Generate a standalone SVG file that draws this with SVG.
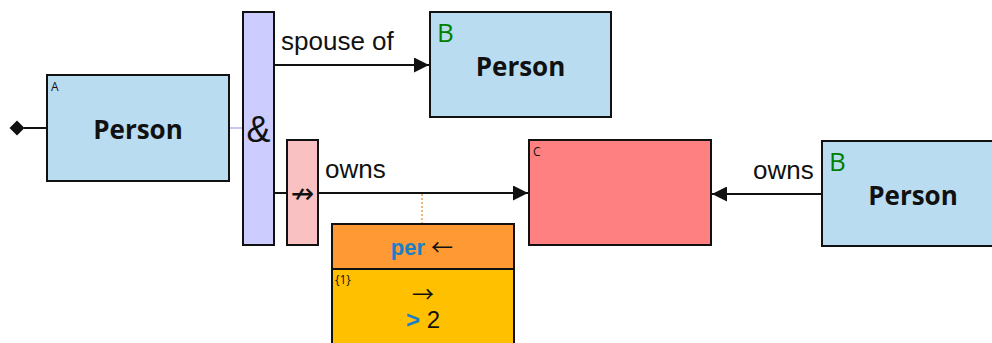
<svg xmlns="http://www.w3.org/2000/svg" width="992" height="343" viewBox="0 0 992 343">
<style>
.box{stroke:#111;stroke-width:2}
.person{fill:#b9dcf0}
.pt{font-family:"Open Sans","Noto Sans",sans-serif;font-weight:bold;font-size:26px;fill:#111;text-anchor:middle}
.var{font-family:"Open Sans","Noto Sans",sans-serif;font-size:26px;fill:#008000}
.small{font-family:"Open Sans","Noto Sans",sans-serif;font-size:12px;fill:#111}
.lbl{font-family:"Liberation Sans",Arial,sans-serif;font-size:26px;fill:#111}
.edge{stroke:#111;stroke-width:2;fill:none}
.arr{font-family:"Noto Sans CJK JP","DejaVu Sans",sans-serif;fill:#111;text-anchor:middle}
</style>
<defs>
<marker id="ah" viewBox="0 0 10 10" refX="10" refY="5" markerWidth="15" markerHeight="15" markerUnits="userSpaceOnUse" orient="auto">
<path d="M0,0 L10,5 L0,10 Z" fill="#111"/>
</marker>
</defs>
<g id="connectors">
<path d="M9.5,128 L17,120.5 L24.5,128 L17,135.5 Z" fill="#111"/>
<line class="edge" x1="24" y1="128" x2="47" y2="128"/>
<line x1="229" y1="128" x2="243" y2="128" stroke="#c8c8f0" stroke-width="2"/>
<line class="edge" x1="274" y1="65" x2="429" y2="65" marker-end="url(#ah)"/>
<text class="lbl" x="281" y="50">spouse of</text>
<line class="edge" x1="274" y1="193" x2="287" y2="193"/>
<line class="edge" x1="318" y1="193" x2="528" y2="193" marker-end="url(#ah)"/>
<text class="lbl" x="325" y="178">owns</text>
<line class="edge" x1="822" y1="194" x2="712" y2="194" marker-end="url(#ah)"/>
<text class="lbl" x="753" y="179">owns</text>
<line x1="422" y1="194" x2="422" y2="223" stroke="#f0a050" stroke-width="1.5" stroke-dasharray="2,2"/>
</g>
<g id="nodeA">
<rect class="box person" x="47" y="75" width="182" height="106"/>
<text class="small" x="51" y="91">A</text>
<text class="pt" x="138" y="139">Person</text>
</g>
<g id="and">
<rect class="box" x="243" y="12" width="31" height="233" fill="#ccccff"/>
<text x="258.5" y="142" font-family="Liberation Sans,Arial,sans-serif" font-size="36" fill="#111" text-anchor="middle">&amp;</text>
</g>
<g id="not">
<rect class="box" x="287" y="140" width="31" height="105" fill="#f9c1c1"/>
<text x="302.5" y="203" font-family="DejaVu Sans,sans-serif" font-size="28" fill="#111" text-anchor="middle">↛</text>
</g>
<g id="nodeB1">
<rect class="box person" x="430" y="12" width="181" height="105"/>
<text class="var" x="437" y="42">B</text>
<text class="pt" x="520.5" y="76">Person</text>
</g>
<g id="nodeC">
<rect class="box" x="529" y="140" width="182" height="105" fill="#ff8080"/>
<text class="small" x="533" y="156">C</text>
</g>
<g id="nodeB2">
<rect class="box person" x="822" y="141" width="182" height="105"/>
<text class="var" x="829" y="171">B</text>
<text class="pt" x="913" y="205">Person</text>
</g>
<g id="per">
<rect class="box" x="332" y="224" width="182" height="130" fill="#ffc000"/>
<rect class="box" x="332" y="224" width="182" height="45" fill="#ff9933"/>
<text x="425" y="255" font-family="Liberation Sans,Arial,sans-serif" font-size="22" font-weight="bold" fill="#1a7fc4" text-anchor="end">per</text>
<text class="arr" x="442" y="255" font-size="22">←</text>
<text class="small" x="335" y="284">{1}</text>
<text class="arr" x="423" y="302" font-size="22">→</text>
<text x="423" y="328" font-family="Liberation Sans,Arial,sans-serif" font-size="24" text-anchor="middle"><tspan font-weight="bold" fill="#1a7fc4">&gt;</tspan><tspan fill="#111"> 2</tspan></text>
</g>
</svg>
